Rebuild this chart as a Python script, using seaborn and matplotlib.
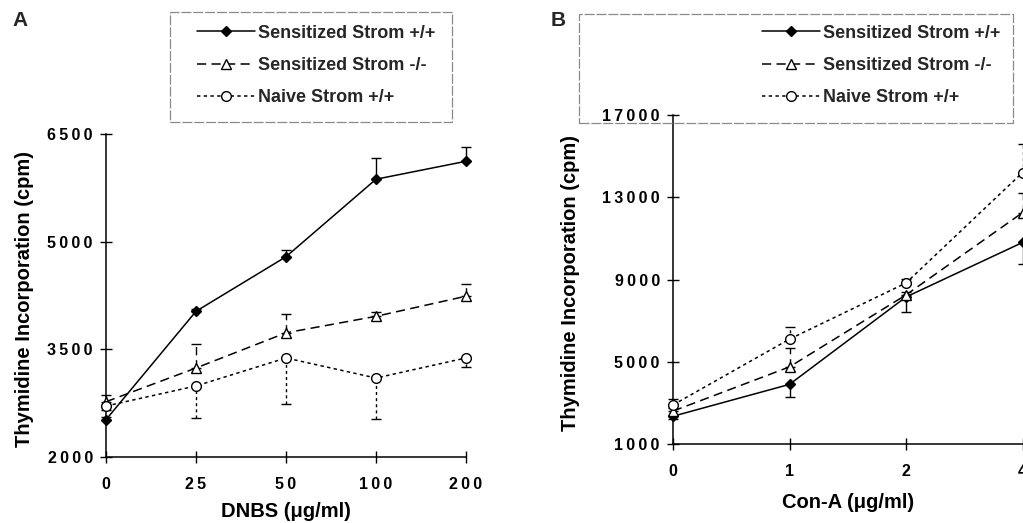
import numpy as np
import pandas as pd
import seaborn as sns
import matplotlib.pyplot as plt
from matplotlib.patches import Rectangle

# ---- data ----
series_names = ["Sensitized Strom +/+", "Sensitized Strom -/-", "Naive Strom +/+"]

# Panel A: DNBS
dnbs_labels = ["0", "25", "50", "100", "200"]
a_sens_wt = [2520, 4030, 4790, 5870, 6120]
a_sens_wt_err = [40, 30, 100, 290, 195]
a_sens_ko = [2770, 3240, 3730, 3960, 4240]
a_sens_ko_err = [90, 330, 265, 60, 170]
a_naive_wt = [2710, 2990, 3380, 3100, 3380]
a_naive_wt_err = [60, 445, 640, 570, 125]
a_yticks = [2000, 3500, 5000, 6500]

# Panel B: Con-A
cona_labels = ["0", "1", "2", "4"]
b_sens_wt = [2350, 3900, 8150, 10800]
b_sens_wt_err = [150, 630, 730, 1070]
b_sens_ko = [2600, 4750, 8250, 12250]
b_sens_ko_err = [150, 900, 150, 950]
b_naive_wt = [2900, 6100, 8830, 14200]
b_naive_wt_err = [290, 570, 200, 1400]
b_yticks = [1000, 5000, 9000, 13000, 17000]

# marker, face colour, dash pattern for each series
STYLES = [
    dict(marker="D", mfc="black", ls="-", ms=5),
    dict(marker="^", mfc="white", ls=(0, (6, 3.5)), ms=7),
    dict(marker="o", mfc="white", ls=(0, (2.2, 2.2)), ms=7),
]

sns.set_theme(style="ticks")
plt.rcParams['font.family'] = ['Liberation Sans', 'DejaVu Sans']
plt.rcParams['font.weight'] = 'bold'

W, H = 1023, 523
fig = plt.figure(figsize=(W / 100, H / 100), dpi=100)


def spaced(s):
    # the original tick labels are letter-spaced
    return "\u2009".join(s)


def px_axes(left, right, top, bottom):
    return fig.add_axes([left / W, 1 - bottom / H, (right - left) / W, (bottom - top) / H])


def draw_panel(ax, xlabels, values, errs, err_dirs, yticks, xlabel):
    xs = np.arange(len(xlabels))
    handles = []
    for name, y, e, d, st in zip(series_names, values, errs, err_dirs, STYLES):
        df = pd.DataFrame({"x": xs, "y": y})
        sns.lineplot(data=df, x="x", y="y", ax=ax, color="black", linewidth=1.1,
                     linestyle=st["ls"], marker=st["marker"], markersize=st["ms"],
                     markeredgecolor="black", markeredgewidth=1.0,
                     errorbar=None, clip_on=False, zorder=3)
        line = ax.lines[-1]
        line.set_markerfacecolor(st["mfc"])
        handles.append(line)
        e = np.asarray(e)
        zero = np.zeros_like(e)
        yerr = [zero, e] if d == "up" else [e, zero]
        cont = ax.errorbar(xs, y, yerr=yerr, fmt="none", ecolor="black",
                           elinewidth=1.0, capsize=3.5, capthick=1.0, zorder=2)
        cont[2][0].set_linestyle(st["ls"])
        for c in cont[1]:
            c.set_clip_on(False)
        cont[2][0].set_clip_on(False)

    ax.set_xlim(0, len(xlabels) - 1)
    ax.set_ylim(yticks[0], yticks[-1])
    ax.set_xticks(xs)
    ax.set_xticklabels([spaced(s) for s in xlabels])
    ax.set_yticks(yticks)
    ax.set_yticklabels([spaced(str(v)) for v in yticks])
    ax.tick_params(direction="inout", length=9, width=1.0, labelsize=11.5,
                   color="black", labelcolor="black")
    ax.tick_params(axis="y", pad=5)
    ax.tick_params(axis="x", pad=10)
    for lab in ax.get_xticklabels() + ax.get_yticklabels():
        lab.set_fontweight("bold")
    sns.despine(ax=ax)
    for sp in ("left", "bottom"):
        ax.spines[sp].set_linewidth(1.1)
        ax.spines[sp].set_color("black")
    ax.set_facecolor("white")
    ax.set_xlabel(xlabel, fontsize=14.5, fontweight="bold", color="black")
    ax.set_ylabel("Thymidine Incorporation (cpm)", fontsize=14.5,
                  fontweight="bold", color="black")
    return handles


# Panel A
ax_a = px_axes(106, 466, 134, 457)
h_a = draw_panel(ax_a, dnbs_labels,
                 [a_sens_wt, a_sens_ko, a_naive_wt],
                 [a_sens_wt_err, a_sens_ko_err, a_naive_wt_err],
                 ["up", "up", "down"], a_yticks, "DNBS (μg/ml)")
ax_a.yaxis.set_label_coords(-0.2, 0.49)
ax_a.xaxis.set_label_coords(0.5, -0.14)

# Panel B (cut off at the right edge, as in the original)
ax_b = px_axes(673, 1022.5, 115, 444)
h_b = draw_panel(ax_b, cona_labels,
                 [b_sens_wt, b_sens_ko, b_naive_wt],
                 [b_sens_wt_err, b_sens_ko_err, b_naive_wt_err],
                 ["down", "up", "up"], b_yticks, "Con-A (μg/ml)")
ax_b.yaxis.set_label_coords(-0.265, 0.49)
ax_b.xaxis.set_label_coords(0.5, -0.15)

# legends with their own boxes
for handles, box, anchor in [
    (h_a, (170, 12, 452, 122), (197, 65.5)),
    (h_b, (579, 14, 1013, 123), (762, 65.5)),
]:
    x0, y0, x1, y1 = box
    fig.patches.append(Rectangle((x0 / W, 1 - y1 / H), (x1 - x0) / W, (y1 - y0) / H,
                                 transform=fig.transFigure, fill=False,
                                 edgecolor="#8a8a8a", linewidth=0.9,
                                 linestyle=(0, (8, 1.5))))
    fig.legend(handles, series_names, loc="center left",
               bbox_to_anchor=(anchor[0] / W, 1 - anchor[1] / H),
               frameon=False, borderpad=0, borderaxespad=0,
               handlelength=3.2, handletextpad=0.2, labelspacing=0.85,
               numpoints=1, prop=dict(size=13, weight="bold"))

fig.text(20 / W, 1 - 21 / H, "A", fontsize=15, fontweight="bold", ha="center", va="center")
fig.text(558 / W, 1 - 21 / H, "B", fontsize=15, fontweight="bold", ha="center", va="center")

fig.savefig("out.png", dpi=100, facecolor="white")
